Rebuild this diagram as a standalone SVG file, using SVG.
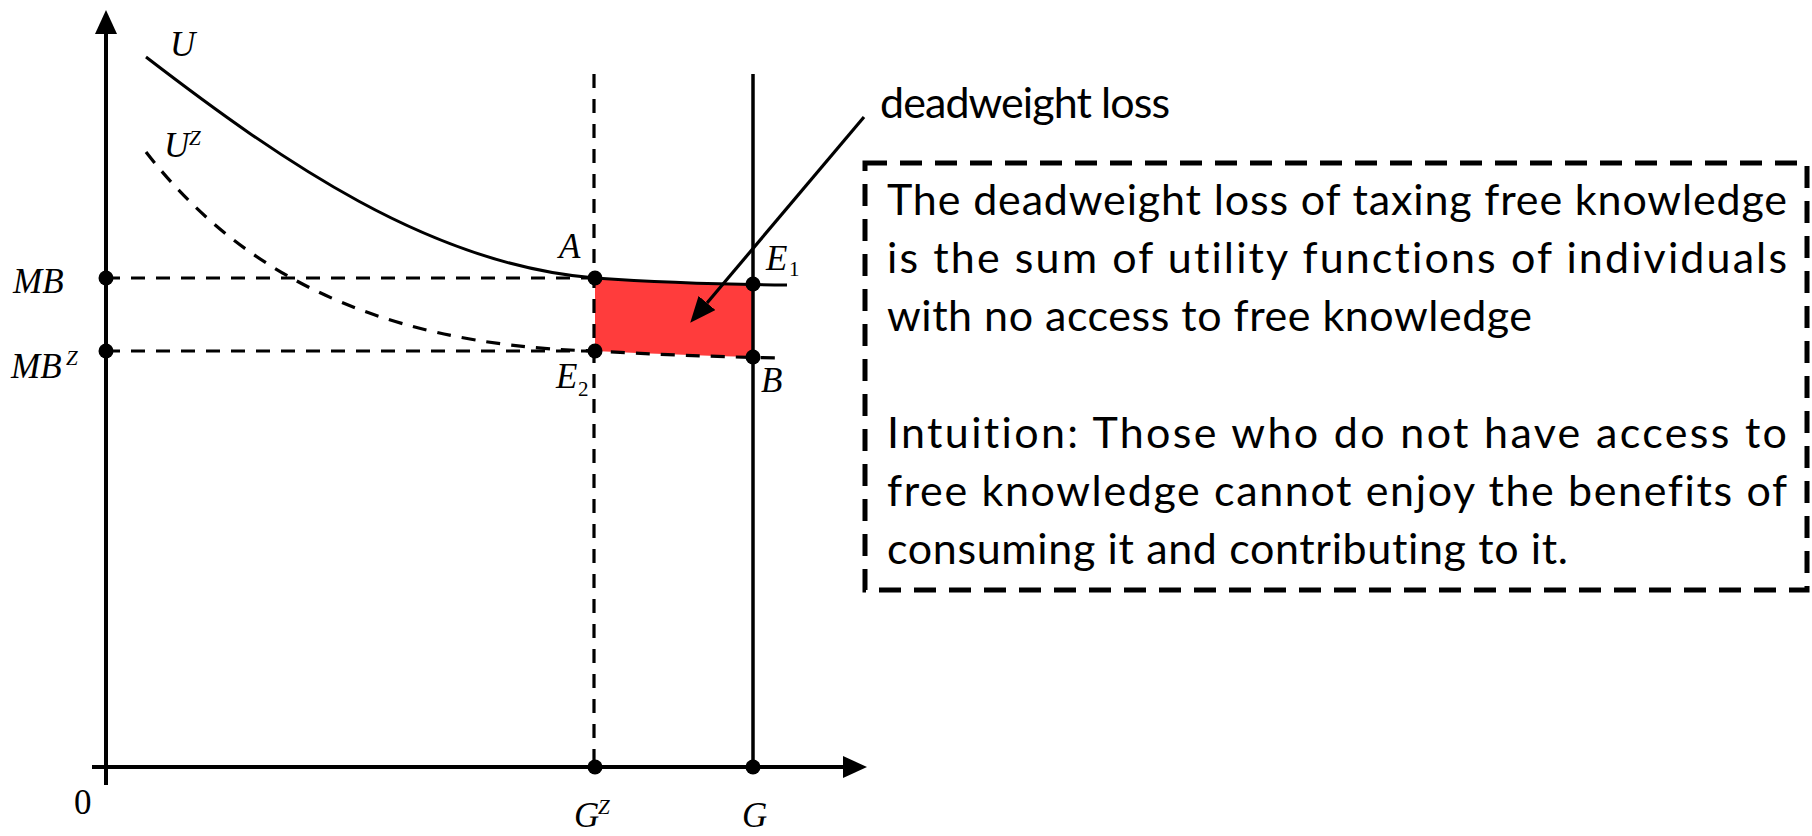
<svg xmlns="http://www.w3.org/2000/svg" width="1812" height="836" viewBox="0 0 1812 836">
<style>
.axis{stroke:#000;stroke-width:4;fill:none}
.solid{stroke:#000;stroke-width:3;fill:none}
.dash{stroke:#000;stroke-width:3.2;fill:none;stroke-dasharray:14 11}
.pt{fill:#000}
.m{font-family:"Liberation Serif","DejaVu Serif",serif;font-style:italic;font-size:35px;fill:#000}
.ms{font-family:"Liberation Serif","DejaVu Serif",serif;font-style:italic;font-size:21px;fill:#000}
.mn{font-family:"Liberation Serif","DejaVu Serif",serif;font-size:21px;fill:#000}
.mu{font-family:"Liberation Serif","DejaVu Serif",serif;font-size:35px;fill:#000}
.t{font-family:Lato,"Open Sans","Liberation Sans",sans-serif;font-size:43px;fill:#000;font-variant-ligatures:none;font-feature-settings:"liga" 0}
</style>
<defs>
<marker id="axhead" viewBox="0 0 24 22" refX="0" refY="11" markerWidth="24" markerHeight="22" markerUnits="userSpaceOnUse" orient="auto">
<path d="M0,0 L24,11 L0,22 Z" fill="#000"/>
</marker>
<marker id="head" viewBox="0 0 26 22" refX="0" refY="11" markerWidth="26" markerHeight="22" markerUnits="userSpaceOnUse" orient="auto">
<path d="M0,0 L26,11 L0,22 Z" fill="#000"/>
</marker>
</defs>

<g id="region">
<path d="M595,278 Q680,284 753,284 L753,357 Q680,355 595,351 Z" fill="#FF3C3C"/>
</g>

<g id="axes">
<line class="axis" x1="106" y1="785" x2="106" y2="34" marker-end="url(#axhead)"/>
<line class="axis" x1="92" y1="767" x2="843" y2="767" marker-end="url(#axhead)"/>
</g>

<g id="guides">
<line class="dash" x1="106" y1="278" x2="595" y2="278"/>
<line class="dash" x1="106" y1="351" x2="595" y2="351"/>
<line class="dash" x1="594" y1="74" x2="594" y2="767"/>
<line class="solid" x1="753" y1="74" x2="753" y2="767" style="stroke-width:3.5"/>
</g>

<g id="curve-U">
<path class="solid" d="M146,57 C280,160 430,265 595,278 Q680,284 787,285"/>
</g>
<g id="curve-UZ">
<path class="dash" d="M146,152 C230,260 360,345 595,351 Q680,356 778,358"/>
</g>

<g id="points">
<circle class="pt" cx="106" cy="278" r="7.5"/>
<circle class="pt" cx="106" cy="351" r="7.5"/>
<circle class="pt" cx="595" cy="278" r="7.5"/>
<circle class="pt" cx="595" cy="351" r="7.5"/>
<circle class="pt" cx="753" cy="284" r="7.5"/>
<circle class="pt" cx="753" cy="357" r="7.5"/>
<circle class="pt" cx="595" cy="767" r="7.5"/>
<circle class="pt" cx="753" cy="767" r="7.5"/>
</g>

<g id="labels">
<text class="m" x="170" y="56">U</text>
<text class="m" x="164" y="157">U</text><text class="ms" x="189" y="145">Z</text>
<text class="m" x="13" y="293">MB</text>
<text class="m" x="11" y="378">MB</text><text class="ms" x="66" y="365">Z</text>
<text class="m" x="559" y="258">A</text>
<text class="m" x="766" y="270">E</text><text class="mn" x="789" y="276">1</text>
<text class="m" x="556" y="388">E</text><text class="mn" x="578" y="396">2</text>
<text class="m" x="761" y="392">B</text>
<text class="mu" x="74" y="814">0</text>
<text class="m" x="574" y="827">G</text><text class="ms" x="598" y="814">Z</text>
<text class="m" x="742" y="827">G</text>
</g>

<g id="connectors">
<line x1="864" y1="117" x2="707" y2="303" stroke="#000" stroke-width="3.2" marker-end="url(#head)"/>
</g>

<g id="callout">
<text class="t" x="880" y="118" textLength="290" lengthAdjust="spacing">deadweight loss</text>
</g>

<g id="textbox">
<rect x="865" y="163" width="942" height="427" fill="none" stroke="#000" stroke-width="5" stroke-dasharray="22 13"/>
<text class="t" x="887" y="215" textLength="900" lengthAdjust="spacing">The deadweight loss of taxing free knowledge</text>
<text class="t" x="887" y="273" textLength="900" lengthAdjust="spacing">is the sum of utility functions of individuals</text>
<text class="t" x="887" y="331" textLength="645" lengthAdjust="spacing">with no access to free knowledge</text>
<text class="t" x="887" y="448" textLength="900" lengthAdjust="spacing">Intuition: Those who do not have access to</text>
<text class="t" x="887" y="506" textLength="900" lengthAdjust="spacing">free knowledge cannot enjoy the benefits of</text>
<text class="t" x="887" y="564" textLength="681" lengthAdjust="spacing">consuming it and contributing to it.</text>
</g>
</svg>
